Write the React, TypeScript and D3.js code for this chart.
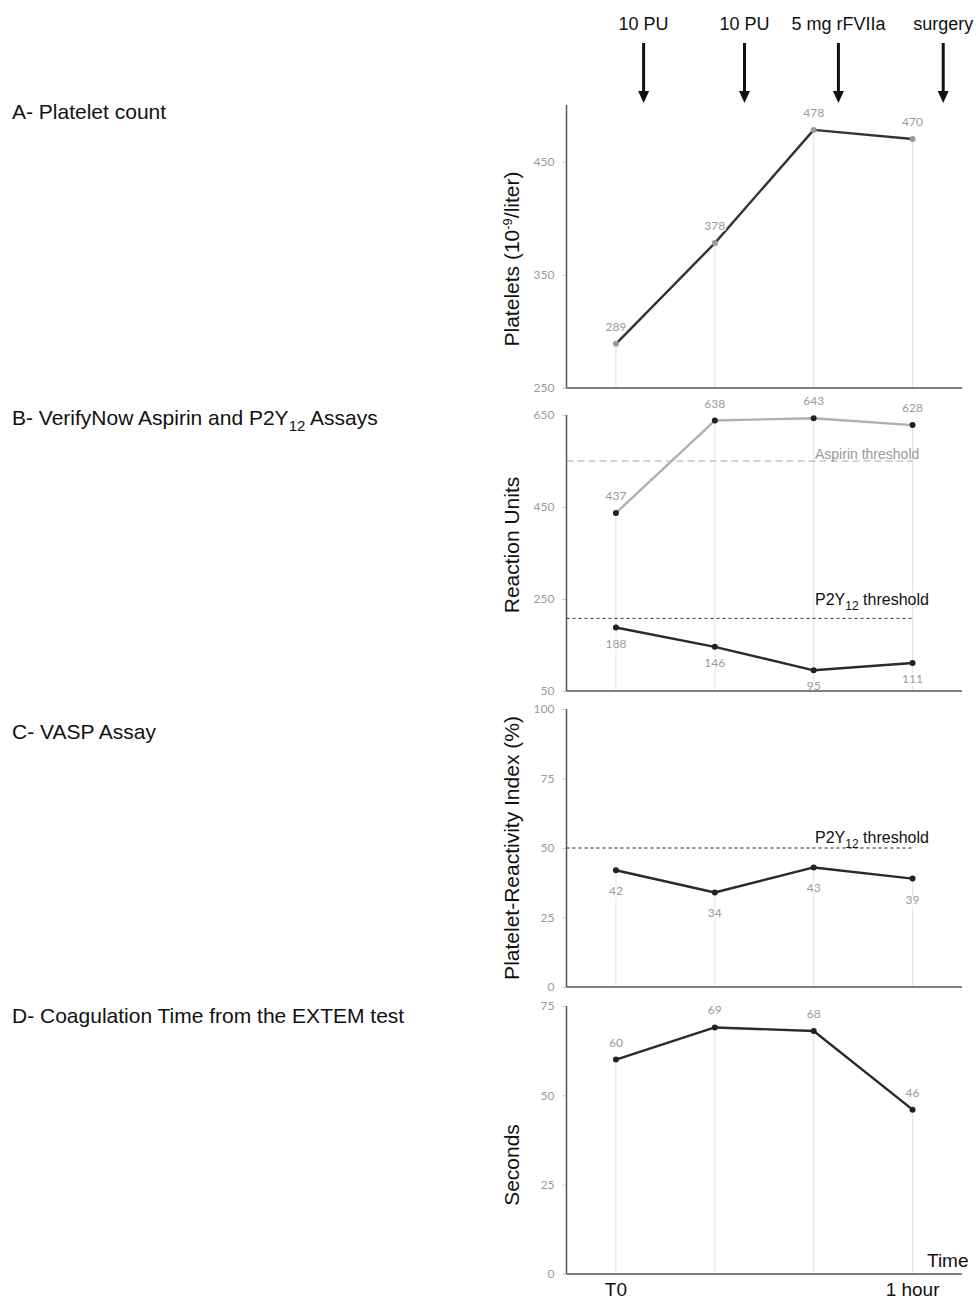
import {useEffect, useRef} from "react"
import * as d3 from "d3"

// time points (index 0..3), only first and last are labelled
const timeLabels = ["T0", "", "", "1 hour"]

// A - platelet count
const platelets = [289, 378, 478, 470]
// B - VerifyNow
const aspirinRU = [437, 638, 643, 628]
const p2y12RU = [188, 146, 95, 111]
const aspirinThreshold = 550
const p2y12Threshold = 208
// C - VASP
const vaspPRI = [42, 34, 43, 39]
const vaspThreshold = 50
// D - EXTEM CT
const extemCT = [60, 69, 68, 46]

// interventions, placed on the time-index axis
const eventLabels = ["10 PU", "10 PU", "5 mg rFVIIa", "surgery"]
const eventTimes = [0.28, 1.3, 2.25, 3.31]

const ticksA = [250, 350, 450]
const ticksB = [50, 250, 450, 650]
const ticksC = [0, 25, 50, 75, 100]
const ticksD = [0, 25, 50, 75]

const SANS = "'Liberation Sans', Arial, sans-serif"
const SOFT = "Lato, 'Open Sans', sans-serif"

const x = d3.scaleLinear().domain([-0.5, 3.5]).range([566.5, 962])

type Series = {
  values: number[]
  stroke: string
  marker: string
  labelDy: number
}

type PanelDef = {
  top: number
  bottom: number
  domain: [number, number]
  ticks: number[]
  titleY: number
  title: any
  series: Series[]
  thresholds: {value: number; color: string; dash: string; label: any; labelColor: string; labelSize: number; labelDy: number}[]
}

const panels: PanelDef[] = [
  {
    top: 105,
    bottom: 388,
    domain: [250, 500],
    ticks: ticksA,
    titleY: 259,
    title: (
      <>
        Platelets (10
        <tspan dy={-7} fontSize={13}>-9</tspan>
        <tspan dy={7}>/liter)</tspan>
      </>
    ),
    series: [{values: platelets, stroke: "#333", marker: "#999", labelDy: -13}],
    thresholds: [],
  },
  {
    top: 415,
    bottom: 691,
    domain: [50, 650],
    ticks: ticksB,
    titleY: 545,
    title: "Reaction Units",
    series: [
      {values: aspirinRU, stroke: "#b0b0b0", marker: "#222", labelDy: -13},
      {values: p2y12RU, stroke: "#2a2a2a", marker: "#222", labelDy: 20},
    ],
    thresholds: [
      {value: aspirinThreshold, color: "#aaa", dash: "7,4", label: "Aspirin threshold", labelColor: "#999", labelSize: 14, labelDy: -2},
      {
        value: p2y12Threshold,
        color: "#222",
        dash: "3,3",
        label: (
          <>
            P2Y<tspan dy={5} fontSize={12}>12</tspan>
            <tspan dy={-5}> threshold</tspan>
          </>
        ),
        labelColor: "#111",
        labelSize: 16,
        labelDy: -13,
      },
    ],
  },
  {
    top: 709,
    bottom: 987,
    domain: [0, 100],
    ticks: ticksC,
    titleY: 848,
    title: "Platelet-Reactivity Index (%)",
    series: [{values: vaspPRI, stroke: "#2a2a2a", marker: "#222", labelDy: 25}],
    thresholds: [
      {
        value: vaspThreshold,
        color: "#222",
        dash: "3,3",
        label: (
          <>
            P2Y<tspan dy={5} fontSize={12}>12</tspan>
            <tspan dy={-5}> threshold</tspan>
          </>
        ),
        labelColor: "#111",
        labelSize: 16,
        labelDy: -5,
      },
    ],
  },
  {
    top: 1006,
    bottom: 1274,
    domain: [0, 75],
    ticks: ticksD,
    titleY: 1165,
    title: "Seconds",
    series: [{values: extemCT, stroke: "#2a2a2a", marker: "#222", labelDy: -13}],
    thresholds: [],
  },
]

const headings = [
  {y: 119, text: <>A- Platelet count</>},
  {
    y: 425,
    text: (
      <>
        B- VerifyNow Aspirin and P2Y<tspan dy={6} fontSize={15}>12</tspan>
        <tspan dy={-6}> Assays</tspan>
      </>
    ),
  },
  {y: 739, text: <>C- VASP Assay</>},
  {y: 1023, text: <>D- Coagulation Time from the EXTEM test</>},
]

function Panel({p}: {p: PanelDef}) {
  const y = d3.scaleLinear().domain(p.domain).range([p.bottom, p.top])
  const axisRef = useRef<SVGGElement>(null)

  useEffect(() => {
    const g = d3.select(axisRef.current)
    g.call(d3.axisLeft(y).tickValues(p.ticks).tickSize(4).tickPadding(8) as any)
    g.select(".domain").remove()
    g.selectAll(".tick line").attr("stroke", "#ccc")
    g.selectAll(".tick text")
      .attr("fill", "#9a9a9a")
      .attr("font-family", SOFT)
      .attr("font-size", 12)
  })

  const line = d3
    .line<number>()
    .x((_, i) => x(i))
    .y((d) => y(d))

  const tops = timeLabels.map((_, i) => d3.max(p.series, (s) => s.values[i]) as number)

  return (
    <g>
      {/* vertical guides from the highest point to the axis */}
      {tops.map((v, i) => (
        <line key={i} x1={x(i)} x2={x(i)} y1={y(v)} y2={p.bottom} stroke="#e2e2e2" strokeWidth={1} />
      ))}
      {p.thresholds.map((t, i) => (
        <g key={i}>
          <line x1={x.range()[0]} x2={x(3)} y1={y(t.value)} y2={y(t.value)} stroke={t.color} strokeWidth={1} strokeDasharray={t.dash} />
          <text x={815} y={y(t.value) + t.labelDy} fill={t.labelColor} fontSize={t.labelSize} fontFamily={SANS}>
            {t.label}
          </text>
        </g>
      ))}
      {p.series.map((s, si) => (
        <g key={si}>
          <path d={line(s.values) as string} fill="none" stroke={s.stroke} strokeWidth={2.4} strokeLinejoin="round" />
          {s.values.map((v, i) => (
            <circle key={i} cx={x(i)} cy={y(v)} r={3} fill={s.marker} />
          ))}
          {s.values.map((v, i) => (
            <text
              key={"l" + i}
              x={x(i)}
              y={y(v) + s.labelDy}
              textAnchor="middle"
              fontSize={12}
              fontFamily={SOFT}
              fill="#9a9a9a"
              stroke="#fff"
              strokeWidth={3}
              paintOrder="stroke"
            >
              {v}
            </text>
          ))}
        </g>
      ))}
      <g ref={axisRef} transform={`translate(${x.range()[0]},0)`} />
      <line x1={x.range()[0]} x2={x.range()[0]} y1={p.top} y2={p.bottom} stroke="#555" strokeWidth={1.5} />
      <line x1={x.range()[0]} x2={x.range()[1]} y1={p.bottom} y2={p.bottom} stroke="#555" strokeWidth={1.5} />
      <text
        transform={`translate(519,${p.titleY}) rotate(-90)`}
        textAnchor="middle"
        fontSize={21}
        fontFamily={SANS}
        fill="#111"
      >
        {p.title}
      </text>
    </g>
  )
}

export default function App() {
  const last = panels[panels.length - 1]
  return (
    <svg width={976} height={1300} style={{position: "absolute", left: 0, top: 0, background: "#fff"}}>
      {/* intervention arrows */}
      {eventLabels.map((label, i) => {
        const ex = x(eventTimes[i])
        return (
          <g key={i}>
            <text x={ex} y={30} textAnchor="middle" fontSize={18} fontFamily={SANS} fill="#111">
              {label}
            </text>
            <line x1={ex} x2={ex} y1={43} y2={93} stroke="#111" strokeWidth={3} />
            <path d={`M${ex - 5.5},91L${ex + 5.5},91L${ex},103Z`} fill="#111" />
          </g>
        )
      })}

      {headings.map((h, i) => (
        <text key={i} x={12} y={h.y} fontSize={21} fontFamily={SANS} fill="#111">
          {h.text}
        </text>
      ))}

      {panels.map((p, i) => (
        <Panel key={i} p={p} />
      ))}

      {timeLabels.map((t, i) =>
        t ? (
          <text key={i} x={x(i)} y={1296} textAnchor="middle" fontSize={19} fontFamily={SANS} fill="#111">
            {t}
          </text>
        ) : null
      )}
      <text x={927} y={last.bottom - 7} fontSize={19} fontFamily={SANS} fill="#111">
        Time
      </text>
    </svg>
  )
}
